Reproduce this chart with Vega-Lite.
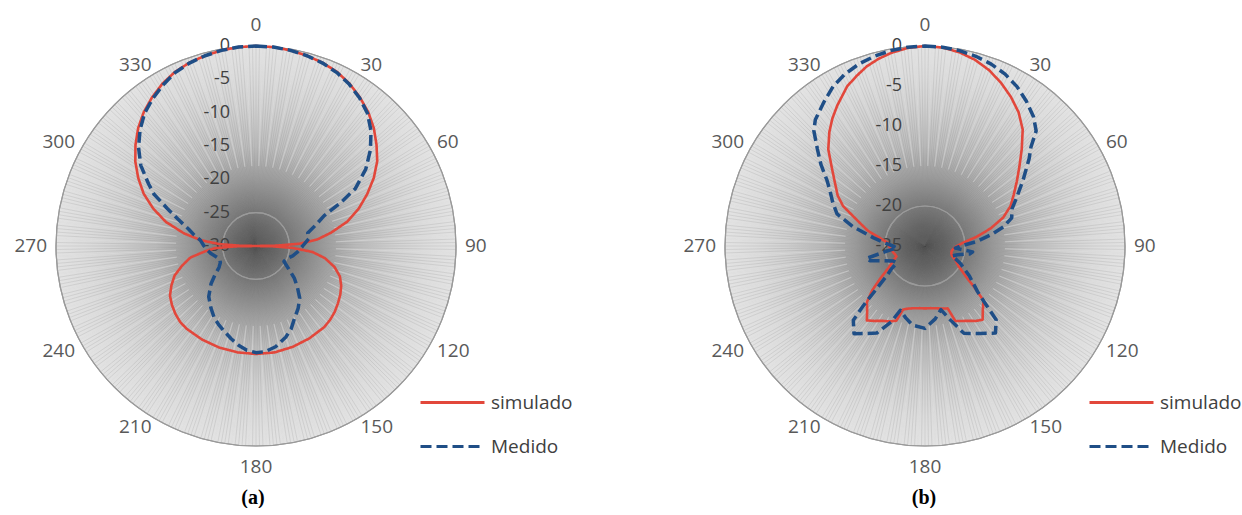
{
"$schema": "https://vega.github.io/schema/vega-lite/v6.json",
"background": "white",
"padding": 0,
"spacing": 0,
"bounds": "flush",
"config": {"view": {"stroke": null}, "axis": {"disable": true}},
"datasets": {
"spokes": [{"t":0},{"t":1},{"t":2},{"t":3},{"t":4},{"t":5},{"t":6},{"t":7},{"t":8},{"t":9},{"t":10},{"t":11},{"t":12},{"t":13},{"t":14},{"t":15},{"t":16},{"t":17},{"t":18},{"t":19},{"t":20},{"t":21},{"t":22},{"t":23},{"t":24},{"t":25},{"t":26},{"t":27},{"t":28},{"t":29},{"t":30},{"t":31},{"t":32},{"t":33},{"t":34},{"t":35},{"t":36},{"t":37},{"t":38},{"t":39},{"t":40},{"t":41},{"t":42},{"t":43},{"t":44},{"t":45},{"t":46},{"t":47},{"t":48},{"t":49},{"t":50},{"t":51},{"t":52},{"t":53},{"t":54},{"t":55},{"t":56},{"t":57},{"t":58},{"t":59},{"t":60},{"t":61},{"t":62},{"t":63},{"t":64},{"t":65},{"t":66},{"t":67},{"t":68},{"t":69},{"t":70},{"t":71},{"t":72},{"t":73},{"t":74},{"t":75},{"t":76},{"t":77},{"t":78},{"t":79},{"t":80},{"t":81},{"t":82},{"t":83},{"t":84},{"t":85},{"t":86},{"t":87},{"t":88},{"t":89},{"t":90},{"t":91},{"t":92},{"t":93},{"t":94},{"t":95},{"t":96},{"t":97},{"t":98},{"t":99},{"t":100},{"t":101},{"t":102},{"t":103},{"t":104},{"t":105},{"t":106},{"t":107},{"t":108},{"t":109},{"t":110},{"t":111},{"t":112},{"t":113},{"t":114},{"t":115},{"t":116},{"t":117},{"t":118},{"t":119},{"t":120},{"t":121},{"t":122},{"t":123},{"t":124},{"t":125},{"t":126},{"t":127},{"t":128},{"t":129},{"t":130},{"t":131},{"t":132},{"t":133},{"t":134},{"t":135},{"t":136},{"t":137},{"t":138},{"t":139},{"t":140},{"t":141},{"t":142},{"t":143},{"t":144},{"t":145},{"t":146},{"t":147},{"t":148},{"t":149},{"t":150},{"t":151},{"t":152},{"t":153},{"t":154},{"t":155},{"t":156},{"t":157},{"t":158},{"t":159},{"t":160},{"t":161},{"t":162},{"t":163},{"t":164},{"t":165},{"t":166},{"t":167},{"t":168},{"t":169},{"t":170},{"t":171},{"t":172},{"t":173},{"t":174},{"t":175},{"t":176},{"t":177},{"t":178},{"t":179},{"t":180},{"t":181},{"t":182},{"t":183},{"t":184},{"t":185},{"t":186},{"t":187},{"t":188},{"t":189},{"t":190},{"t":191},{"t":192},{"t":193},{"t":194},{"t":195},{"t":196},{"t":197},{"t":198},{"t":199},{"t":200},{"t":201},{"t":202},{"t":203},{"t":204},{"t":205},{"t":206},{"t":207},{"t":208},{"t":209},{"t":210},{"t":211},{"t":212},{"t":213},{"t":214},{"t":215},{"t":216},{"t":217},{"t":218},{"t":219},{"t":220},{"t":221},{"t":222},{"t":223},{"t":224},{"t":225},{"t":226},{"t":227},{"t":228},{"t":229},{"t":230},{"t":231},{"t":232},{"t":233},{"t":234},{"t":235},{"t":236},{"t":237},{"t":238},{"t":239},{"t":240},{"t":241},{"t":242},{"t":243},{"t":244},{"t":245},{"t":246},{"t":247},{"t":248},{"t":249},{"t":250},{"t":251},{"t":252},{"t":253},{"t":254},{"t":255},{"t":256},{"t":257},{"t":258},{"t":259},{"t":260},{"t":261},{"t":262},{"t":263},{"t":264},{"t":265},{"t":266},{"t":267},{"t":268},{"t":269},{"t":270},{"t":271},{"t":272},{"t":273},{"t":274},{"t":275},{"t":276},{"t":277},{"t":278},{"t":279},{"t":280},{"t":281},{"t":282},{"t":283},{"t":284},{"t":285},{"t":286},{"t":287},{"t":288},{"t":289},{"t":290},{"t":291},{"t":292},{"t":293},{"t":294},{"t":295},{"t":296},{"t":297},{"t":298},{"t":299},{"t":300},{"t":301},{"t":302},{"t":303},{"t":304},{"t":305},{"t":306},{"t":307},{"t":308},{"t":309},{"t":310},{"t":311},{"t":312},{"t":313},{"t":314},{"t":315},{"t":316},{"t":317},{"t":318},{"t":319},{"t":320},{"t":321},{"t":322},{"t":323},{"t":324},{"t":325},{"t":326},{"t":327},{"t":328},{"t":329},{"t":330},{"t":331},{"t":332},{"t":333},{"t":334},{"t":335},{"t":336},{"t":337},{"t":338},{"t":339},{"t":340},{"t":341},{"t":342},{"t":343},{"t":344},{"t":345},{"t":346},{"t":347},{"t":348},{"t":349},{"t":350},{"t":351},{"t":352},{"t":353},{"t":354},{"t":355},{"t":356},{"t":357},{"t":358},{"t":359}],
"angles": [{"t":0},{"t":30},{"t":60},{"t":90},{"t":120},{"t":150},{"t":180},{"t":210},{"t":240},{"t":270},{"t":300},{"t":330}],
"levels": [{"p":"a","db":-30},{"p":"a","db":-25},{"p":"a","db":-20},{"p":"a","db":-15},{"p":"a","db":-10},{"p":"a","db":-5},{"p":"a","db":0},
{"p":"b","db":-25},{"p":"b","db":-20},{"p":"b","db":-15},{"p":"b","db":-10},{"p":"b","db":-5},{"p":"b","db":0}],
"pattern": [
{"p":"a","s":"simulado","t":0,"v":0},{"p":"a","s":"simulado","t":5,"v":-0.05},{"p":"a","s":"simulado","t":10,"v":-0.2},{"p":"a","s":"simulado","t":15,"v":-0.45},{"p":"a","s":"simulado","t":20,"v":-0.75},{"p":"a","s":"simulado","t":25,"v":-1.2},{"p":"a","s":"simulado","t":30,"v":-1.9},{"p":"a","s":"simulado","t":35,"v":-2.8},{"p":"a","s":"simulado","t":40,"v":-3.8},{"p":"a","s":"simulado","t":45,"v":-5.0},{"p":"a","s":"simulado","t":50,"v":-6.4},{"p":"a","s":"simulado","t":55,"v":-7.8},{"p":"a","s":"simulado","t":60,"v":-9.6},{"p":"a","s":"simulado","t":65,"v":-11.6},{"p":"a","s":"simulado","t":70,"v":-13.6},{"p":"a","s":"simulado","t":75,"v":-15.8},{"p":"a","s":"simulado","t":80,"v":-18.6},{"p":"a","s":"simulado","t":84,"v":-20.8},{"p":"a","s":"simulado","t":87,"v":-23.5},{"p":"a","s":"simulado","t":89,"v":-27},{"p":"a","s":"simulado","t":90,"v":-30},{"p":"a","s":"simulado","t":91,"v":-27.5},{"p":"a","s":"simulado","t":93,"v":-24.5},{"p":"a","s":"simulado","t":96,"v":-21.5},{"p":"a","s":"simulado","t":100,"v":-19.5},{"p":"a","s":"simulado","t":105,"v":-17.8},{"p":"a","s":"simulado","t":110,"v":-16.6},{"p":"a","s":"simulado","t":115,"v":-15.9},{"p":"a","s":"simulado","t":120,"v":-15.4},{"p":"a","s":"simulado","t":125,"v":-15.0},{"p":"a","s":"simulado","t":130,"v":-14.6},{"p":"a","s":"simulado","t":135,"v":-14.3},{"p":"a","s":"simulado","t":140,"v":-14.1},{"p":"a","s":"simulado","t":150,"v":-14.0},{"p":"a","s":"simulado","t":160,"v":-13.9},{"p":"a","s":"simulado","t":170,"v":-13.8},{"p":"a","s":"simulado","t":180,"v":-13.8},{"p":"a","s":"simulado","t":190,"v":-13.8},{"p":"a","s":"simulado","t":200,"v":-13.8},{"p":"a","s":"simulado","t":210,"v":-13.8},{"p":"a","s":"simulado","t":220,"v":-13.8},{"p":"a","s":"simulado","t":225,"v":-13.9},{"p":"a","s":"simulado","t":230,"v":-14.2},{"p":"a","s":"simulado","t":235,"v":-14.6},{"p":"a","s":"simulado","t":240,"v":-15.1},{"p":"a","s":"simulado","t":245,"v":-16.0},{"p":"a","s":"simulado","t":250,"v":-17.0},{"p":"a","s":"simulado","t":255,"v":-18.5},{"p":"a","s":"simulado","t":260,"v":-20.0},{"p":"a","s":"simulado","t":264,"v":-22.3},{"p":"a","s":"simulado","t":267,"v":-23.8},{"p":"a","s":"simulado","t":269,"v":-27},{"p":"a","s":"simulado","t":270,"v":-30},{"p":"a","s":"simulado","t":271,"v":-27.5},{"p":"a","s":"simulado","t":273,"v":-24.5},{"p":"a","s":"simulado","t":276,"v":-21.7},{"p":"a","s":"simulado","t":280,"v":-19.0},{"p":"a","s":"simulado","t":285,"v":-16.0},{"p":"a","s":"simulado","t":290,"v":-13.6},{"p":"a","s":"simulado","t":295,"v":-11.4},{"p":"a","s":"simulado","t":300,"v":-9.6},{"p":"a","s":"simulado","t":305,"v":-7.9},{"p":"a","s":"simulado","t":310,"v":-6.4},{"p":"a","s":"simulado","t":315,"v":-5.0},{"p":"a","s":"simulado","t":320,"v":-3.8},{"p":"a","s":"simulado","t":325,"v":-2.8},{"p":"a","s":"simulado","t":330,"v":-1.9},{"p":"a","s":"simulado","t":335,"v":-1.2},{"p":"a","s":"simulado","t":340,"v":-0.75},{"p":"a","s":"simulado","t":345,"v":-0.45},{"p":"a","s":"simulado","t":350,"v":-0.2},{"p":"a","s":"simulado","t":355,"v":-0.05},
{"p":"a","s":"Medido","t":0,"v":0},{"p":"a","s":"Medido","t":5,"v":-0.05},{"p":"a","s":"Medido","t":10,"v":-0.2},{"p":"a","s":"Medido","t":15,"v":-0.45},{"p":"a","s":"Medido","t":20,"v":-0.8},{"p":"a","s":"Medido","t":25,"v":-1.3},{"p":"a","s":"Medido","t":30,"v":-2.0},{"p":"a","s":"Medido","t":35,"v":-2.9},{"p":"a","s":"Medido","t":40,"v":-4.0},{"p":"a","s":"Medido","t":45,"v":-5.6},{"p":"a","s":"Medido","t":50,"v":-7.6},{"p":"a","s":"Medido","t":55,"v":-9.9},{"p":"a","s":"Medido","t":60,"v":-12.8},{"p":"a","s":"Medido","t":63,"v":-15.8},{"p":"a","s":"Medido","t":66,"v":-18.8},{"p":"a","s":"Medido","t":70,"v":-20.3},{"p":"a","s":"Medido","t":76,"v":-22.0},{"p":"a","s":"Medido","t":82,"v":-22.0},{"p":"a","s":"Medido","t":90,"v":-23.0},{"p":"a","s":"Medido","t":98,"v":-23.7},{"p":"a","s":"Medido","t":105,"v":-24.3},{"p":"a","s":"Medido","t":112,"v":-25.0},{"p":"a","s":"Medido","t":119,"v":-25.2},{"p":"a","s":"Medido","t":125,"v":-24.0},{"p":"a","s":"Medido","t":130,"v":-22.5},{"p":"a","s":"Medido","t":135,"v":-21.2},{"p":"a","s":"Medido","t":140,"v":-19.8},{"p":"a","s":"Medido","t":146,"v":-18.7},{"p":"a","s":"Medido","t":152,"v":-17.7},{"p":"a","s":"Medido","t":157,"v":-16.5},{"p":"a","s":"Medido","t":162,"v":-15.6},{"p":"a","s":"Medido","t":169,"v":-14.6},{"p":"a","s":"Medido","t":175,"v":-14.1},{"p":"a","s":"Medido","t":180,"v":-14.0},{"p":"a","s":"Medido","t":185,"v":-14.3},{"p":"a","s":"Medido","t":190,"v":-14.9},{"p":"a","s":"Medido","t":195,"v":-15.6},{"p":"a","s":"Medido","t":200,"v":-16.3},{"p":"a","s":"Medido","t":205,"v":-16.9},{"p":"a","s":"Medido","t":210,"v":-17.5},{"p":"a","s":"Medido","t":216,"v":-18.5},{"p":"a","s":"Medido","t":223,"v":-19.6},{"p":"a","s":"Medido","t":230,"v":-21.2},{"p":"a","s":"Medido","t":235,"v":-22.5},{"p":"a","s":"Medido","t":240,"v":-23.6},{"p":"a","s":"Medido","t":245,"v":-24.1},{"p":"a","s":"Medido","t":250,"v":-24.2},{"p":"a","s":"Medido","t":255,"v":-23.8},{"p":"a","s":"Medido","t":260,"v":-23.2},{"p":"a","s":"Medido","t":265,"v":-22.7},{"p":"a","s":"Medido","t":270,"v":-22.2},{"p":"a","s":"Medido","t":276,"v":-21.6},{"p":"a","s":"Medido","t":280,"v":-20.6},{"p":"a","s":"Medido","t":284,"v":-19.6},{"p":"a","s":"Medido","t":289,"v":-17.6},{"p":"a","s":"Medido","t":293,"v":-15.5},{"p":"a","s":"Medido","t":297,"v":-12.8},{"p":"a","s":"Medido","t":300,"v":-11.4},{"p":"a","s":"Medido","t":305,"v":-8.9},{"p":"a","s":"Medido","t":310,"v":-7.0},{"p":"a","s":"Medido","t":315,"v":-5.4},{"p":"a","s":"Medido","t":320,"v":-4.0},{"p":"a","s":"Medido","t":325,"v":-3.0},{"p":"a","s":"Medido","t":330,"v":-2.1},{"p":"a","s":"Medido","t":335,"v":-1.3},{"p":"a","s":"Medido","t":340,"v":-0.8},{"p":"a","s":"Medido","t":345,"v":-0.45},{"p":"a","s":"Medido","t":350,"v":-0.2},{"p":"a","s":"Medido","t":355,"v":-0.05},
{"p":"b","s":"simulado","t":0,"v":0},{"p":"b","s":"simulado","t":5,"v":-0.1},{"p":"b","s":"simulado","t":10,"v":-0.4},{"p":"b","s":"simulado","t":15,"v":-0.9},{"p":"b","s":"simulado","t":20,"v":-1.6},{"p":"b","s":"simulado","t":25,"v":-2.5},{"p":"b","s":"simulado","t":30,"v":-3.5},{"p":"b","s":"simulado","t":35,"v":-4.6},{"p":"b","s":"simulado","t":40,"v":-6.0},{"p":"b","s":"simulado","t":45,"v":-7.9},{"p":"b","s":"simulado","t":50,"v":-9.6},{"p":"b","s":"simulado","t":55,"v":-11.0},{"p":"b","s":"simulado","t":60,"v":-12.2},{"p":"b","s":"simulado","t":65,"v":-13.2},{"p":"b","s":"simulado","t":70,"v":-14.6},{"p":"b","s":"simulado","t":75,"v":-16.5},{"p":"b","s":"simulado","t":80,"v":-18.5},{"p":"b","s":"simulado","t":85,"v":-20.2},{"p":"b","s":"simulado","t":90,"v":-21.0},{"p":"b","s":"simulado","t":95,"v":-21.4},{"p":"b","s":"simulado","t":100,"v":-21.6},{"p":"b","s":"simulado","t":105,"v":-21.6},{"p":"b","s":"simulado","t":110,"v":-21.4},{"p":"b","s":"simulado","t":115,"v":-20.8},{"p":"b","s":"simulado","t":121,"v":-20.1},{"p":"b","s":"simulado","t":127,"v":-18.5},{"p":"b","s":"simulado","t":130,"v":-16.9},{"p":"b","s":"simulado","t":133,"v":-15.0},{"p":"b","s":"simulado","t":138,"v":-14.2},{"p":"b","s":"simulado","t":142,"v":-13.3},{"p":"b","s":"simulado","t":146,"v":-13.7},{"p":"b","s":"simulado","t":150,"v":-14.2},{"p":"b","s":"simulado","t":155,"v":-14.65},{"p":"b","s":"simulado","t":158,"v":-14.9},{"p":"b","s":"simulado","t":160,"v":-16.7},{"p":"b","s":"simulado","t":165,"v":-16.9},{"p":"b","s":"simulado","t":170,"v":-17.1},{"p":"b","s":"simulado","t":175,"v":-17.2},{"p":"b","s":"simulado","t":180,"v":-17.2},{"p":"b","s":"simulado","t":185,"v":-17.2},{"p":"b","s":"simulado","t":190,"v":-17.1},{"p":"b","s":"simulado","t":195,"v":-16.9},{"p":"b","s":"simulado","t":199,"v":-16.6},{"p":"b","s":"simulado","t":201,"v":-15.0},{"p":"b","s":"simulado","t":205,"v":-14.6},{"p":"b","s":"simulado","t":210,"v":-14.2},{"p":"b","s":"simulado","t":214,"v":-13.7},{"p":"b","s":"simulado","t":218,"v":-13.2},{"p":"b","s":"simulado","t":222,"v":-14.2},{"p":"b","s":"simulado","t":226,"v":-14.9},{"p":"b","s":"simulado","t":230,"v":-16.4},{"p":"b","s":"simulado","t":234,"v":-18.1},{"p":"b","s":"simulado","t":239,"v":-19.7},{"p":"b","s":"simulado","t":245,"v":-20.6},{"p":"b","s":"simulado","t":250,"v":-21.2},{"p":"b","s":"simulado","t":255,"v":-21.1},{"p":"b","s":"simulado","t":260,"v":-20.9},{"p":"b","s":"simulado","t":265,"v":-20.7},{"p":"b","s":"simulado","t":270,"v":-20.5},{"p":"b","s":"simulado","t":275,"v":-20.3},{"p":"b","s":"simulado","t":280,"v":-19.3},{"p":"b","s":"simulado","t":285,"v":-17.6},{"p":"b","s":"simulado","t":290,"v":-16.2},{"p":"b","s":"simulado","t":296,"v":-13.6},{"p":"b","s":"simulado","t":300,"v":-12.4},{"p":"b","s":"simulado","t":306,"v":-11.0},{"p":"b","s":"simulado","t":310,"v":-9.8},{"p":"b","s":"simulado","t":315,"v":-7.9},{"p":"b","s":"simulado","t":320,"v":-6.4},{"p":"b","s":"simulado","t":324,"v":-5.3},{"p":"b","s":"simulado","t":328,"v":-4.3},{"p":"b","s":"simulado","t":334,"v":-2.8},{"p":"b","s":"simulado","t":338,"v":-2.1},{"p":"b","s":"simulado","t":342,"v":-1.4},{"p":"b","s":"simulado","t":346,"v":-0.9},{"p":"b","s":"simulado","t":350,"v":-0.5},{"p":"b","s":"simulado","t":355,"v":-0.15},
{"p":"b","s":"Medido","t":0,"v":0},{"p":"b","s":"Medido","t":5,"v":-0.05},{"p":"b","s":"Medido","t":10,"v":-0.2},{"p":"b","s":"Medido","t":15,"v":-0.45},{"p":"b","s":"Medido","t":20,"v":-0.8},{"p":"b","s":"Medido","t":25,"v":-1.3},{"p":"b","s":"Medido","t":30,"v":-2.0},{"p":"b","s":"Medido","t":35,"v":-2.9},{"p":"b","s":"Medido","t":40,"v":-3.9},{"p":"b","s":"Medido","t":44,"v":-5.0},{"p":"b","s":"Medido","t":47,"v":-6.9},{"p":"b","s":"Medido","t":50,"v":-8.0},{"p":"b","s":"Medido","t":56,"v":-10.2},{"p":"b","s":"Medido","t":62,"v":-12.0},{"p":"b","s":"Medido","t":67,"v":-13.2},{"p":"b","s":"Medido","t":72,"v":-13.6},{"p":"b","s":"Medido","t":76,"v":-14.8},{"p":"b","s":"Medido","t":80,"v":-16.5},{"p":"b","s":"Medido","t":85,"v":-18.5},{"p":"b","s":"Medido","t":90,"v":-20.5},{"p":"b","s":"Medido","t":94,"v":-21.2},{"p":"b","s":"Medido","t":97,"v":-19.0},{"p":"b","s":"Medido","t":100,"v":-19.3},{"p":"b","s":"Medido","t":105,"v":-20.8},{"p":"b","s":"Medido","t":110,"v":-21.4},{"p":"b","s":"Medido","t":116,"v":-20.1},{"p":"b","s":"Medido","t":124,"v":-18.3},{"p":"b","s":"Medido","t":131,"v":-16.3},{"p":"b","s":"Medido","t":134,"v":-14.3},{"p":"b","s":"Medido","t":136,"v":-12.2},{"p":"b","s":"Medido","t":141,"v":-11.0},{"p":"b","s":"Medido","t":148,"v":-12.1},{"p":"b","s":"Medido","t":156,"v":-13.05},{"p":"b","s":"Medido","t":161,"v":-15.2},{"p":"b","s":"Medido","t":166,"v":-16.8},{"p":"b","s":"Medido","t":172,"v":-15.8},{"p":"b","s":"Medido","t":180,"v":-14.7},{"p":"b","s":"Medido","t":189,"v":-15.0},{"p":"b","s":"Medido","t":195,"v":-15.7},{"p":"b","s":"Medido","t":201,"v":-16.4},{"p":"b","s":"Medido","t":204,"v":-14.6},{"p":"b","s":"Medido","t":209,"v":-12.55},{"p":"b","s":"Medido","t":214,"v":-11.8},{"p":"b","s":"Medido","t":219,"v":-10.9},{"p":"b","s":"Medido","t":224,"v":-12.1},{"p":"b","s":"Medido","t":226,"v":-14.3},{"p":"b","s":"Medido","t":228,"v":-16.5},{"p":"b","s":"Medido","t":232,"v":-18.9},{"p":"b","s":"Medido","t":236,"v":-20.0},{"p":"b","s":"Medido","t":239,"v":-20.9},{"p":"b","s":"Medido","t":245,"v":-20.6},{"p":"b","s":"Medido","t":250,"v":-19.6},{"p":"b","s":"Medido","t":255,"v":-17.9},{"p":"b","s":"Medido","t":258,"v":-17.5},{"p":"b","s":"Medido","t":262,"v":-20.0},{"p":"b","s":"Medido","t":266,"v":-21.5},{"p":"b","s":"Medido","t":270,"v":-21.0},{"p":"b","s":"Medido","t":275,"v":-19.8},{"p":"b","s":"Medido","t":279,"v":-18.5},{"p":"b","s":"Medido","t":285,"v":-15.7},{"p":"b","s":"Medido","t":290,"v":-13.3},{"p":"b","s":"Medido","t":295,"v":-12.3},{"p":"b","s":"Medido","t":300,"v":-11.3},{"p":"b","s":"Medido","t":304,"v":-10.2},{"p":"b","s":"Medido","t":308,"v":-8.5},{"p":"b","s":"Medido","t":312,"v":-6.9},{"p":"b","s":"Medido","t":316,"v":-5.0},{"p":"b","s":"Medido","t":319,"v":-4.1},{"p":"b","s":"Medido","t":325,"v":-3.0},{"p":"b","s":"Medido","t":330,"v":-2.0},{"p":"b","s":"Medido","t":335,"v":-1.3},{"p":"b","s":"Medido","t":340,"v":-0.8},{"p":"b","s":"Medido","t":345,"v":-0.45},{"p":"b","s":"Medido","t":350,"v":-0.2},{"p":"b","s":"Medido","t":355,"v":-0.05}
]
},
"hconcat": [
{
"width": 600, "height": 482,
"title": {"text": "(a)", "orient": "bottom", "anchor": "middle", "dx": -47, "offset": 6, "font": "Liberation Serif", "fontSize": 20, "fontWeight": "bold", "color": "#000000"},
"layer": [
{"data": {"values": [{"c": 0}]},
 "mark": {"type": "arc", "radius": 200, "radius2": 0, "theta": 0, "theta2": 6.2832, "fill": {"gradient": "radial", "stops": [{"offset": 0, "color": "#626262"}, {"offset": 0.1, "color": "#6f6f6f"}, {"offset": 0.2, "color": "#858585"}, {"offset": 0.35, "color": "#a4a4a4"}, {"offset": 0.5, "color": "#bfbfbf"}, {"offset": 0.7, "color": "#d2d2d2"}, {"offset": 0.85, "color": "#dcdcdc"}, {"offset": 1, "color": "#e3e3e3"}]}},
 "encoding": {"x": {"datum": 0, "type": "quantitative", "scale": {"domain": [-38.4, 51.6], "nice": false, "zero": false}, "axis": null}, "y": {"datum": 0, "type": "quantitative", "scale": {"domain": [-35.4, 36.9], "nice": false, "zero": false}, "axis": null}}},
{"data": {"name": "spokes"},
 "transform": [{"calculate": "30*sin(datum.t*PI/180)", "as": "ex"}, {"calculate": "30*cos(datum.t*PI/180)", "as": "ey"}],
 "mark": {"type": "rule", "stroke": "#5a5a5a", "strokeWidth": 0.6, "opacity": 0.22},
 "encoding": {"x": {"field": "ex", "type": "quantitative", "scale": {"domain": [-38.4, 51.6], "nice": false, "zero": false}, "axis": null}, "y": {"field": "ey", "type": "quantitative", "scale": {"domain": [-35.4, 36.9], "nice": false, "zero": false}, "axis": null}, "x2": {"datum": 0}, "y2": {"datum": 0}}},
{"data": {"name": "spokes"},
 "transform": [{"filter": "datum.t % 5 == 2"}, {"calculate": "30*sin(datum.t*PI/180)", "as": "ex"}, {"calculate": "30*cos(datum.t*PI/180)", "as": "ey"}, {"calculate": "12*sin(datum.t*PI/180)", "as": "sx"}, {"calculate": "12*cos(datum.t*PI/180)", "as": "sy"}],
 "mark": {"type": "rule", "stroke": "#ffffff", "strokeWidth": 0.9, "opacity": 0.4},
 "encoding": {"x": {"field": "ex", "type": "quantitative", "scale": {"domain": [-38.4, 51.6], "nice": false, "zero": false}, "axis": null}, "y": {"field": "ey", "type": "quantitative", "scale": {"domain": [-35.4, 36.9], "nice": false, "zero": false}, "axis": null}, "x2": {"field": "sx"}, "y2": {"field": "sy"}}},
{"data": {"name": "levels"},
 "transform": [{"filter": "datum.p == 'a' && datum.db > -30"}],
 "mark": {"type": "arc", "theta": 0, "theta2": 6.2832, "radius2": 0, "filled": false, "stroke": "#9a9a9a", "strokeWidth": 1.2},
 "encoding": {"x": {"datum": 0, "type": "quantitative", "scale": {"domain": [-38.4, 51.6], "nice": false, "zero": false}, "axis": null}, "y": {"datum": 0, "type": "quantitative", "scale": {"domain": [-35.4, 36.9], "nice": false, "zero": false}, "axis": null}, "radius": {"field": "db", "type": "quantitative", "scale": {"type": "linear", "domain": [-30, 0], "range": [0, 200], "nice": false, "zero": false}}}},
{"data": {"name": "levels"},
 "transform": [{"filter": "datum.p == 'a'"}, {"calculate": "datum.db + 30", "as": "ry"}],
 "mark": {"type": "text", "align": "right", "baseline": "middle", "dx": -26, "font": "Open Sans", "fontSize": 18, "color": "#404040"},
 "encoding": {"x": {"datum": 0, "type": "quantitative", "scale": {"domain": [-38.4, 51.6], "nice": false, "zero": false}, "axis": null}, "y": {"field": "ry", "type": "quantitative", "scale": {"domain": [-35.4, 36.9], "nice": false, "zero": false}, "axis": null}, "text": {"field": "db", "type": "nominal"}}},
{"data": {"name": "pattern"},
 "transform": [{"filter": "datum.p == 'a' && datum.s == 'simulado'"}, {"calculate": "max(0, datum.v + 30)", "as": "r"}, {"calculate": "datum.r*sin(datum.t*PI/180)", "as": "x"}, {"calculate": "datum.r*cos(datum.t*PI/180)", "as": "y"}],
 "mark": {"type": "line", "interpolate": "linear-closed", "strokeWidth": 2.6, "strokeJoin": "round"},
 "encoding": {"x": {"field": "x", "type": "quantitative", "scale": {"domain": [-38.4, 51.6], "nice": false, "zero": false}, "axis": null}, "y": {"field": "y", "type": "quantitative", "scale": {"domain": [-35.4, 36.9], "nice": false, "zero": false}, "axis": null}, "order": {"field": "t", "type": "quantitative"},
  "color": {"field": "s", "type": "nominal", "scale": {"domain": ["simulado", "Medido"], "range": ["#e2473b", "#1f4e86"]}, "legend": {"orient": "none", "legendX": 419, "legendY": 369, "title": null, "padding": 0, "symbolType": "stroke", "symbolSize": 4096, "symbolStrokeWidth": 3, "labelFont": "Open Sans", "labelFontSize": 19, "labelColor": "#404040", "labelOffset": 5, "rowPadding": -22}},
  "strokeDash": {"field": "s", "type": "nominal", "scale": {"domain": ["simulado", "Medido"], "range": [[1, 0], [11, 5]]}, "legend": {"orient": "none", "legendX": 419, "legendY": 369, "title": null, "padding": 0, "symbolType": "stroke", "symbolSize": 4096, "symbolStrokeWidth": 3, "labelFont": "Open Sans", "labelFontSize": 19, "labelColor": "#404040", "labelOffset": 5, "rowPadding": -22}}}},
{"data": {"name": "pattern"},
 "transform": [{"filter": "datum.p == 'a' && datum.s == 'Medido'"}, {"calculate": "max(0, datum.v + 30)", "as": "r"}, {"calculate": "datum.r*sin(datum.t*PI/180)", "as": "x"}, {"calculate": "datum.r*cos(datum.t*PI/180)", "as": "y"}],
 "mark": {"type": "line", "interpolate": "linear-closed", "strokeWidth": 3.5, "strokeJoin": "round"},
 "encoding": {"x": {"field": "x", "type": "quantitative", "scale": {"domain": [-38.4, 51.6], "nice": false, "zero": false}, "axis": null}, "y": {"field": "y", "type": "quantitative", "scale": {"domain": [-35.4, 36.9], "nice": false, "zero": false}, "axis": null}, "order": {"field": "t", "type": "quantitative"},
  "color": {"field": "s", "type": "nominal", "scale": {"domain": ["simulado", "Medido"], "range": ["#e2473b", "#1f4e86"]}, "legend": {"orient": "none", "legendX": 419, "legendY": 369, "title": null, "padding": 0, "symbolType": "stroke", "symbolSize": 4096, "symbolStrokeWidth": 3, "labelFont": "Open Sans", "labelFontSize": 19, "labelColor": "#404040", "labelOffset": 5, "rowPadding": -22}},
  "strokeDash": {"field": "s", "type": "nominal", "scale": {"domain": ["simulado", "Medido"], "range": [[1, 0], [11, 5]]}, "legend": {"orient": "none", "legendX": 419, "legendY": 369, "title": null, "padding": 0, "symbolType": "stroke", "symbolSize": 4096, "symbolStrokeWidth": 3, "labelFont": "Open Sans", "labelFontSize": 19, "labelColor": "#404040", "labelOffset": 5, "rowPadding": -22}}}},
{"data": {"name": "angles"},
 "transform": [{"filter": "datum.t == 0 || datum.t == 180"}, {"calculate": "33.15*sin(datum.t*PI/180)", "as": "lx"}, {"calculate": "33.15*cos(datum.t*PI/180)", "as": "ly"}],
 "mark": {"type": "text", "align": "center", "baseline": "middle", "font": "Open Sans", "fontSize": 19, "color": "#595959"},
 "encoding": {"x": {"field": "lx", "type": "quantitative", "scale": {"domain": [-38.4, 51.6], "nice": false, "zero": false}, "axis": null}, "y": {"field": "ly", "type": "quantitative", "scale": {"domain": [-35.4, 36.9], "nice": false, "zero": false}, "axis": null}, "text": {"field": "t", "type": "nominal"}}},
{"data": {"name": "angles"},
 "transform": [{"filter": "datum.t > 0 && datum.t < 180"}, {"calculate": "31.35*sin(datum.t*PI/180)", "as": "lx"}, {"calculate": "31.35*cos(datum.t*PI/180)", "as": "ly"}],
 "mark": {"type": "text", "align": "left", "baseline": "middle", "font": "Open Sans", "fontSize": 19, "color": "#595959"},
 "encoding": {"x": {"field": "lx", "type": "quantitative", "scale": {"domain": [-38.4, 51.6], "nice": false, "zero": false}, "axis": null}, "y": {"field": "ly", "type": "quantitative", "scale": {"domain": [-35.4, 36.9], "nice": false, "zero": false}, "axis": null}, "text": {"field": "t", "type": "nominal"}}},
{"data": {"name": "angles"},
 "transform": [{"filter": "datum.t > 180"}, {"calculate": "31.35*sin(datum.t*PI/180)", "as": "lx"}, {"calculate": "31.35*cos(datum.t*PI/180)", "as": "ly"}],
 "mark": {"type": "text", "align": "right", "baseline": "middle", "font": "Open Sans", "fontSize": 19, "color": "#595959"},
 "encoding": {"x": {"field": "lx", "type": "quantitative", "scale": {"domain": [-38.4, 51.6], "nice": false, "zero": false}, "axis": null}, "y": {"field": "ly", "type": "quantitative", "scale": {"domain": [-35.4, 36.9], "nice": false, "zero": false}, "axis": null}, "text": {"field": "t", "type": "nominal"}}}
]
},
{
"width": 642, "height": 482,
"title": {"text": "(b)", "orient": "bottom", "anchor": "middle", "dx": 3, "offset": 6, "font": "Liberation Serif", "fontSize": 20, "fontWeight": "bold", "color": "#000000"},
"layer": [
{"data": {"values": [{"c": 0}]},
 "mark": {"type": "arc", "radius": 200, "radius2": 0, "theta": 0, "theta2": 6.2832, "fill": {"gradient": "radial", "stops": [{"offset": 0, "color": "#5e5e5e"}, {"offset": 0.1, "color": "#6a6a6a"}, {"offset": 0.2, "color": "#808080"}, {"offset": 0.35, "color": "#a2a2a2"}, {"offset": 0.5, "color": "#bdbdbd"}, {"offset": 0.7, "color": "#d1d1d1"}, {"offset": 0.85, "color": "#dcdcdc"}, {"offset": 1, "color": "#e3e3e3"}]}},
 "encoding": {"x": {"datum": 0, "type": "quantitative", "scale": {"domain": [-40.625, 39.625], "nice": false, "zero": false}, "axis": null}, "y": {"datum": 0, "type": "quantitative", "scale": {"domain": [-29.5, 30.75], "nice": false, "zero": false}, "axis": null}}},
{"data": {"name": "spokes"},
 "transform": [{"calculate": "25*sin(datum.t*PI/180)", "as": "ex"}, {"calculate": "25*cos(datum.t*PI/180)", "as": "ey"}],
 "mark": {"type": "rule", "stroke": "#5a5a5a", "strokeWidth": 0.6, "opacity": 0.22},
 "encoding": {"x": {"field": "ex", "type": "quantitative", "scale": {"domain": [-40.625, 39.625], "nice": false, "zero": false}, "axis": null}, "y": {"field": "ey", "type": "quantitative", "scale": {"domain": [-29.5, 30.75], "nice": false, "zero": false}, "axis": null}, "x2": {"datum": 0}, "y2": {"datum": 0}}},
{"data": {"name": "spokes"},
 "transform": [{"filter": "datum.t % 5 == 2"}, {"calculate": "25*sin(datum.t*PI/180)", "as": "ex"}, {"calculate": "25*cos(datum.t*PI/180)", "as": "ey"}, {"calculate": "10*sin(datum.t*PI/180)", "as": "sx"}, {"calculate": "10*cos(datum.t*PI/180)", "as": "sy"}],
 "mark": {"type": "rule", "stroke": "#ffffff", "strokeWidth": 0.9, "opacity": 0.4},
 "encoding": {"x": {"field": "ex", "type": "quantitative", "scale": {"domain": [-40.625, 39.625], "nice": false, "zero": false}, "axis": null}, "y": {"field": "ey", "type": "quantitative", "scale": {"domain": [-29.5, 30.75], "nice": false, "zero": false}, "axis": null}, "x2": {"field": "sx"}, "y2": {"field": "sy"}}},
{"data": {"name": "levels"},
 "transform": [{"filter": "datum.p == 'b' && datum.db > -25"}],
 "mark": {"type": "arc", "theta": 0, "theta2": 6.2832, "radius2": 0, "filled": false, "stroke": "#9a9a9a", "strokeWidth": 1.2},
 "encoding": {"x": {"datum": 0, "type": "quantitative", "scale": {"domain": [-40.625, 39.625], "nice": false, "zero": false}, "axis": null}, "y": {"datum": 0, "type": "quantitative", "scale": {"domain": [-29.5, 30.75], "nice": false, "zero": false}, "axis": null}, "radius": {"field": "db", "type": "quantitative", "scale": {"type": "linear", "domain": [-25, 0], "range": [0, 200], "nice": false, "zero": false}}}},
{"data": {"name": "levels"},
 "transform": [{"filter": "datum.p == 'b'"}, {"calculate": "datum.db + 25", "as": "ry"}],
 "mark": {"type": "text", "align": "right", "baseline": "middle", "dx": -23, "font": "Open Sans", "fontSize": 18, "color": "#404040"},
 "encoding": {"x": {"datum": 0, "type": "quantitative", "scale": {"domain": [-40.625, 39.625], "nice": false, "zero": false}, "axis": null}, "y": {"field": "ry", "type": "quantitative", "scale": {"domain": [-29.5, 30.75], "nice": false, "zero": false}, "axis": null}, "text": {"field": "db", "type": "nominal"}}},
{"data": {"name": "pattern"},
 "transform": [{"filter": "datum.p == 'b' && datum.s == 'simulado'"}, {"calculate": "max(0, datum.v + 25)", "as": "r"}, {"calculate": "datum.r*sin(datum.t*PI/180)", "as": "x"}, {"calculate": "datum.r*cos(datum.t*PI/180)", "as": "y"}],
 "mark": {"type": "line", "interpolate": "linear-closed", "strokeWidth": 2.6, "strokeJoin": "round"},
 "encoding": {"x": {"field": "x", "type": "quantitative", "scale": {"domain": [-40.625, 39.625], "nice": false, "zero": false}, "axis": null}, "y": {"field": "y", "type": "quantitative", "scale": {"domain": [-29.5, 30.75], "nice": false, "zero": false}, "axis": null}, "order": {"field": "t", "type": "quantitative"},
  "color": {"field": "s", "type": "nominal", "scale": {"domain": ["simulado", "Medido"], "range": ["#e2473b", "#1f4e86"]}, "legend": {"orient": "none", "legendX": 488, "legendY": 369, "title": null, "padding": 0, "symbolType": "stroke", "symbolSize": 4096, "symbolStrokeWidth": 3, "labelFont": "Open Sans", "labelFontSize": 19, "labelColor": "#404040", "labelOffset": 5, "rowPadding": -22}},
  "strokeDash": {"field": "s", "type": "nominal", "scale": {"domain": ["simulado", "Medido"], "range": [[1, 0], [11, 5]]}, "legend": {"orient": "none", "legendX": 488, "legendY": 369, "title": null, "padding": 0, "symbolType": "stroke", "symbolSize": 4096, "symbolStrokeWidth": 3, "labelFont": "Open Sans", "labelFontSize": 19, "labelColor": "#404040", "labelOffset": 5, "rowPadding": -22}}}},
{"data": {"name": "pattern"},
 "transform": [{"filter": "datum.p == 'b' && datum.s == 'Medido'"}, {"calculate": "max(0, datum.v + 25)", "as": "r"}, {"calculate": "datum.r*sin(datum.t*PI/180)", "as": "x"}, {"calculate": "datum.r*cos(datum.t*PI/180)", "as": "y"}],
 "mark": {"type": "line", "interpolate": "linear-closed", "strokeWidth": 3.5, "strokeJoin": "round"},
 "encoding": {"x": {"field": "x", "type": "quantitative", "scale": {"domain": [-40.625, 39.625], "nice": false, "zero": false}, "axis": null}, "y": {"field": "y", "type": "quantitative", "scale": {"domain": [-29.5, 30.75], "nice": false, "zero": false}, "axis": null}, "order": {"field": "t", "type": "quantitative"},
  "color": {"field": "s", "type": "nominal", "scale": {"domain": ["simulado", "Medido"], "range": ["#e2473b", "#1f4e86"]}, "legend": {"orient": "none", "legendX": 488, "legendY": 369, "title": null, "padding": 0, "symbolType": "stroke", "symbolSize": 4096, "symbolStrokeWidth": 3, "labelFont": "Open Sans", "labelFontSize": 19, "labelColor": "#404040", "labelOffset": 5, "rowPadding": -22}},
  "strokeDash": {"field": "s", "type": "nominal", "scale": {"domain": ["simulado", "Medido"], "range": [[1, 0], [11, 5]]}, "legend": {"orient": "none", "legendX": 488, "legendY": 369, "title": null, "padding": 0, "symbolType": "stroke", "symbolSize": 4096, "symbolStrokeWidth": 3, "labelFont": "Open Sans", "labelFontSize": 19, "labelColor": "#404040", "labelOffset": 5, "rowPadding": -22}}}},
{"data": {"name": "angles"},
 "transform": [{"filter": "datum.t == 0 || datum.t == 180"}, {"calculate": "27.625*sin(datum.t*PI/180)", "as": "lx"}, {"calculate": "27.625*cos(datum.t*PI/180)", "as": "ly"}],
 "mark": {"type": "text", "align": "center", "baseline": "middle", "font": "Open Sans", "fontSize": 19, "color": "#595959"},
 "encoding": {"x": {"field": "lx", "type": "quantitative", "scale": {"domain": [-40.625, 39.625], "nice": false, "zero": false}, "axis": null}, "y": {"field": "ly", "type": "quantitative", "scale": {"domain": [-29.5, 30.75], "nice": false, "zero": false}, "axis": null}, "text": {"field": "t", "type": "nominal"}}},
{"data": {"name": "angles"},
 "transform": [{"filter": "datum.t > 0 && datum.t < 180"}, {"calculate": "26.125*sin(datum.t*PI/180)", "as": "lx"}, {"calculate": "26.125*cos(datum.t*PI/180)", "as": "ly"}],
 "mark": {"type": "text", "align": "left", "baseline": "middle", "font": "Open Sans", "fontSize": 19, "color": "#595959"},
 "encoding": {"x": {"field": "lx", "type": "quantitative", "scale": {"domain": [-40.625, 39.625], "nice": false, "zero": false}, "axis": null}, "y": {"field": "ly", "type": "quantitative", "scale": {"domain": [-29.5, 30.75], "nice": false, "zero": false}, "axis": null}, "text": {"field": "t", "type": "nominal"}}},
{"data": {"name": "angles"},
 "transform": [{"filter": "datum.t > 180"}, {"calculate": "26.125*sin(datum.t*PI/180)", "as": "lx"}, {"calculate": "26.125*cos(datum.t*PI/180)", "as": "ly"}],
 "mark": {"type": "text", "align": "right", "baseline": "middle", "font": "Open Sans", "fontSize": 19, "color": "#595959"},
 "encoding": {"x": {"field": "lx", "type": "quantitative", "scale": {"domain": [-40.625, 39.625], "nice": false, "zero": false}, "axis": null}, "y": {"field": "ly", "type": "quantitative", "scale": {"domain": [-29.5, 30.75], "nice": false, "zero": false}, "axis": null}, "text": {"field": "t", "type": "nominal"}}}
]
}
],
"resolve": {"scale": {"x": "independent", "y": "independent", "radius": "independent", "color": "independent", "strokeDash": "independent"}, "legend": {"color": "independent", "strokeDash": "independent"}}
}
